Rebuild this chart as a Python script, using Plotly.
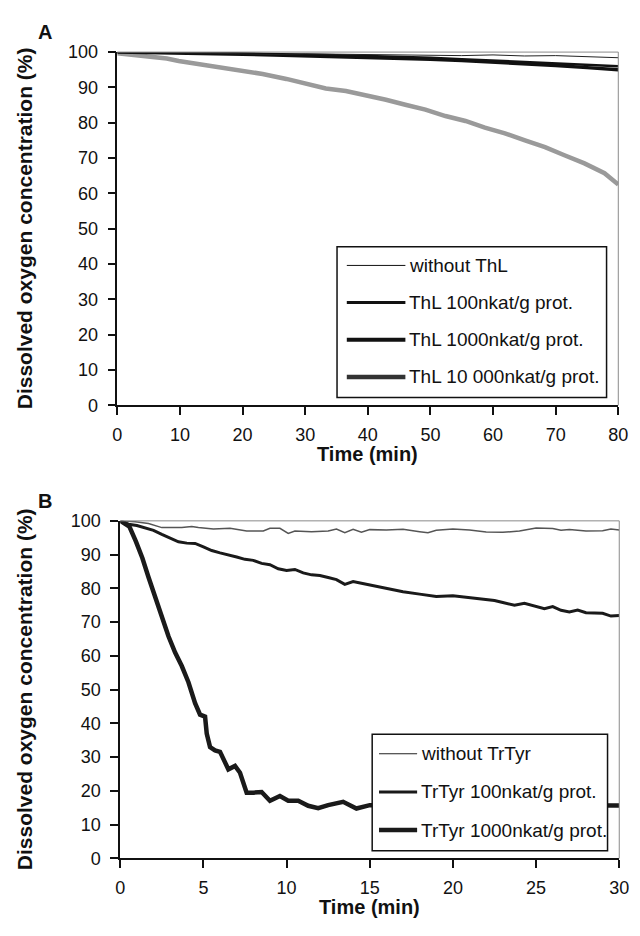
import plotly.graph_objects as go

# ---------------- Panel A data ----------------
a_t_ctrl = [0, 5, 10, 15, 20, 25, 30, 35, 40, 45, 50, 55, 60, 65, 70, 75, 78, 80]
a_ctrl = [100, 100, 99.8, 99.7, 99.5, 99.3, 99.5, 99.4, 99.4, 99.3, 99.2, 99.0, 99.2, 98.9, 99.0, 98.7, 98.4, 98.4]

a_t_100 = [0, 5, 10, 15, 20, 25, 30, 35, 40, 45, 50, 55, 60, 65, 70, 75, 80]
a_100 = [100, 100, 99.9, 99.8, 99.6, 99.5, 99.3, 99.1, 98.9, 98.7, 98.4, 98.0, 97.6, 97.2, 96.8, 96.3, 96.0]

a_t_1000 = [0, 5, 10, 15, 20, 25, 30, 35, 40, 45, 50, 55, 60, 65, 70, 75, 80]
a_1000 = [100, 99.9, 99.8, 99.6, 99.4, 99.2, 99.0, 98.8, 98.6, 98.3, 98.0, 97.6, 97.2, 96.7, 96.2, 95.6, 95.0]

a_t_10000 = [0, 1, 4.8, 7.9, 9.8, 13, 16.2, 20, 23.2, 27, 30.2, 33.3, 36.5, 40, 42.9, 46, 49.2,
             52.4, 55.6, 58.7, 61.9, 65.1, 68.3, 71.4, 74.6, 77.8, 80]
a_10000 = [99.7, 99.5, 98.9, 98.2, 97.5, 96.6, 96.0, 94.8, 93.8, 92.4, 91.1, 89.7, 89.0, 87.7, 86.5, 85.1, 83.7,
           81.9, 80.5, 78.6, 77.0, 75.0, 73.1, 70.8, 68.5, 65.7, 62.5]

a_names = ["without ThL", "ThL 100nkat/g prot.", "ThL 1000nkat/g prot.", "ThL 10 000nkat/g prot."]

# ---------------- Panel B data ----------------
b_t_ctrl = [0, 0.9, 1.7, 2.5, 3.7, 4.3, 4.7, 5.6, 6.6, 7.6, 8.6, 9.0, 9.6, 10.1, 10.5, 11.5, 12.5,
            13, 13.5, 14, 14.5, 15, 16, 17, 18, 18.5, 19, 20, 21, 22, 23, 24, 25, 26, 26.5, 27, 28, 29, 29.5, 30]
b_ctrl = [100, 99.7, 99.2, 98.0, 98.0, 98.3, 98.0, 97.6, 97.8, 97.0, 97.0, 97.8, 97.8, 96.3, 97.0, 96.8, 97.0,
          97.6, 96.5, 97.5, 96.6, 97.4, 97.3, 97.5, 96.8, 96.5, 97.2, 97.6, 97.3, 96.7, 96.6, 97.0, 97.9, 97.7, 97.2,
          97.4, 97.0, 97.1, 97.6, 97.3]

b_t_100 = [0, 0.5, 1, 1.5, 2, 2.5, 3, 3.5, 4, 4.5, 5, 5.5, 6, 6.5, 7, 7.5, 8, 8.5, 9, 9.5, 10, 10.5, 11,
           11.5, 12, 12.5, 13, 13.5, 14, 14.5, 15, 16, 17, 18, 19, 20, 21, 22, 22.5, 23, 23.7, 24.3, 25,
           25.5, 26, 26.5, 27, 27.5, 28, 29, 29.5, 30]
b_100 = [100, 99.0, 98.6, 97.8, 97.2, 96.0, 94.8, 93.8, 93.4, 93.3, 92.3, 91.2, 90.5, 90.0, 89.3, 88.6, 88.3,
         87.4, 87.0, 85.8, 85.3, 85.6, 84.6, 84.0, 83.8, 83.2, 82.6, 81.2, 82.0, 81.5, 81.0, 80.2, 79.0, 78.3,
         77.6, 77.8, 77.3, 76.8, 76.4, 75.8, 75.0, 75.6, 74.6, 74.0, 74.6, 73.5, 73.0, 73.6, 72.8, 72.6, 71.8, 72.0]

b_t_1000 = [0, 0.55, 0.94, 1.33, 1.7, 2.1, 2.5, 2.9, 3.3, 3.7, 4.1, 4.5, 4.8, 5.1, 5.2, 5.4, 5.7, 6.0, 6.5,
            6.9, 7.2, 7.6, 8.0, 8.5, 9.0, 9.6, 10.1, 10.7, 11.3, 11.9, 12.5, 13.0, 13.4, 14.2, 15.0, 16, 18,
            20, 22, 24, 26, 28, 29.5, 30]
b_1000 = [100, 98.3, 93.9, 89.0, 83.3, 77.4, 71.2, 65.8, 61.0, 57.0, 52.2, 46.0, 42.6, 42.0, 37.0, 33.0, 32.0,
          31.6, 26.4, 27.4, 25.4, 19.5, 19.5, 19.7, 17.1, 18.5, 17.1, 17.1, 15.6, 14.9, 15.8, 16.3, 16.8, 14.8,
          15.8, 15.8, 15.8, 15.8, 15.8, 15.8, 15.8, 15.8, 15.7, 15.7]

b_names = ["without TrTyr", "TrTyr 100nkat/g prot.", "TrTyr 1000nkat/g prot."]

W, H = 640, 936
FONT = "Liberation Sans, Arial, sans-serif"


def px(x):
    return x / W


def py(y):
    return 1 - y / H


A_X = (115, 628)
A_Y = (43, 404)
B_X = (118, 629)
B_Y = (522, 867)

fig = go.Figure()

# Panel A traces
fig.add_trace(go.Scatter(x=a_t_10000, y=a_10000, mode="lines", name=a_names[3],
                         line=dict(color="#9a9a9a", width=4.5), xaxis="x", yaxis="y"))
fig.add_trace(go.Scatter(x=a_t_1000, y=a_1000, mode="lines", name=a_names[2],
                         line=dict(color="#111111", width=3.5), xaxis="x", yaxis="y"))
fig.add_trace(go.Scatter(x=a_t_100, y=a_100, mode="lines", name=a_names[1],
                         line=dict(color="#111111", width=2.5), xaxis="x", yaxis="y"))
fig.add_trace(go.Scatter(x=a_t_ctrl, y=a_ctrl, mode="lines", name=a_names[0],
                         line=dict(color="#222222", width=1), xaxis="x", yaxis="y"))

# Panel B traces
fig.add_trace(go.Scatter(x=b_t_ctrl, y=b_ctrl, mode="lines", name=b_names[0],
                         line=dict(color="#555555", width=1.5), xaxis="x2", yaxis="y2"))
fig.add_trace(go.Scatter(x=b_t_100, y=b_100, mode="lines", name=b_names[1],
                         line=dict(color="#1a1a1a", width=3), xaxis="x2", yaxis="y2"))
fig.add_trace(go.Scatter(x=b_t_1000, y=b_1000, mode="lines", name=b_names[2],
                         line=dict(color="#1a1a1a", width=4.5), xaxis="x2", yaxis="y2"))

tickfont = dict(family=FONT, size=18, color="#111")
common_x = dict(showline=True, linecolor="#111", linewidth=1.5, ticks="outside", ticklen=8,
                tickwidth=1.5, tickcolor="#111", showgrid=False, zeroline=False, tickfont=tickfont,
                ticklabelstandoff=4)
common_y = dict(showline=True, linecolor="#111", linewidth=1.5, ticks="outside", ticklen=8,
                tickwidth=1.5, tickcolor="#111", showgrid=False, zeroline=False, tickfont=tickfont,
                range=[0, 100], dtick=10, ticklabelstandoff=6)

fig.update_layout(
    width=W, height=H, margin=dict(l=0, r=0, t=0, b=0),
    paper_bgcolor="white", plot_bgcolor="white", showlegend=False,
    xaxis=dict(common_x, domain=[px(A_X[0]), px(A_X[1])], range=[0, 80], dtick=10, anchor="y"),
    yaxis=dict(common_y, domain=[py(A_Y[1]), py(A_Y[0])], anchor="x"),
    xaxis2=dict(common_x, domain=[px(B_X[0]), px(B_X[1])], range=[0, 30], dtick=5, anchor="y2"),
    yaxis2=dict(common_y, domain=[py(B_Y[1]), py(B_Y[0])], anchor="x2"),
)

shapes = []
annots = []

# gray top/right frame lines
for (xa, ya) in (("x", "y"), ("x2", "y2")):
    shapes.append(dict(type="line", xref=f"{xa} domain", yref=f"{ya} domain", x0=0, x1=1, y0=1, y1=1,
                       line=dict(color="#8a8a8a", width=1)))
    shapes.append(dict(type="line", xref=f"{xa} domain", yref=f"{ya} domain", x0=1, x1=1, y0=0, y1=1,
                       line=dict(color="#8a8a8a", width=1)))


def legend(box, rows, sample_x, text_x, names, styles):
    x0, y0, x1, y1 = box
    shapes.append(dict(type="rect", xref="paper", yref="paper", x0=px(x0), x1=px(x1), y0=py(y1), y1=py(y0),
                       line=dict(color="#111", width=1.5), fillcolor="white", layer="above"))
    for yy, nm, st in zip(rows, names, styles):
        shapes.append(dict(type="line", xref="paper", yref="paper", x0=px(sample_x[0]), x1=px(sample_x[1]),
                           y0=py(yy), y1=py(yy), line=st, layer="above"))
        annots.append(dict(x=px(text_x), y=py(yy), xref="paper", yref="paper", text=nm, showarrow=False,
                           xanchor="left", yanchor="middle", font=dict(family=FONT, size=19, color="#111")))


legend((340, 242, 616, 396), [261, 299, 337, 375], (350, 410), 412, a_names,
       [dict(color="#111", width=1), dict(color="#111", width=3), dict(color="#111", width=4),
        dict(color="#333", width=4.5)])
legend((376, 740, 617, 859), [760, 799, 838], (383, 422), 424, b_names,
       [dict(color="#222", width=1.2), dict(color="#1a1a1a", width=3), dict(color="#1a1a1a", width=4.5)])

# panel letters
for letter, yy in (("A", 22), ("B", 502)):
    annots.append(dict(x=px(41), y=py(yy), xref="paper", yref="paper", text=f"<b>{letter}</b>", showarrow=False,
                       xanchor="center", yanchor="middle", font=dict(family=FONT, size=20, color="#111")))

# axis titles
ytitle = "<b>Dissolved oxygen concentration (%)</b>"
for yc in ((A_Y[0] + A_Y[1]) / 2, (B_Y[0] + B_Y[1]) / 2):
    annots.append(dict(x=px(20), y=py(yc), xref="paper", yref="paper", text=ytitle, showarrow=False,
                       textangle=-90, xanchor="center", yanchor="middle",
                       font=dict(family=FONT, size=21, color="#111")))
for xc, yc in (((A_X[0] + A_X[1]) / 2, 454), ((B_X[0] + B_X[1]) / 2, 917)):
    annots.append(dict(x=px(xc), y=py(yc), xref="paper", yref="paper", text="<b>Time (min)</b>",
                       showarrow=False, xanchor="center", yanchor="middle",
                       font=dict(family=FONT, size=20, color="#111")))

fig.update_layout(shapes=shapes, annotations=annots)
fig.write_html("out.html", config={"displayModeBar": False},
               post_script="document.body.style.margin='0';")
